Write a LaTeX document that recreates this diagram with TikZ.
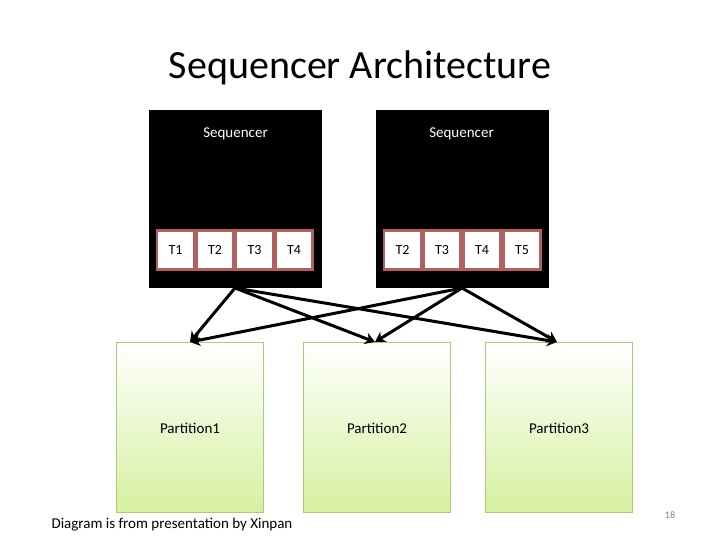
\documentclass[tikz,border=0pt]{standalone}
\usepackage{fontspec}
\setmainfont{Carlito}
\usetikzlibrary{arrows.meta}
\definecolor{pgreen}{HTML}{D6F0A0}
\definecolor{pborder}{HTML}{A8CC78}
\definecolor{cellb}{HTML}{B06060}
\begin{document}
\begin{tikzpicture}[x=1pt,y=-1pt,
  seq/.style={fill=black,draw=none},
  cell/.style={draw=cellb,line width=2.5pt,fill=white,minimum width=37pt,minimum height=39pt,inner sep=0pt,font=\fontsize{14}{16}\selectfont},
  part/.style={draw=pborder,line width=0.6pt,top color=white,bottom color=pgreen,minimum width=147pt,minimum height=170pt,inner sep=0pt},
  arr/.style={line width=3pt,-{Stealth[length=10pt,width=12pt]}}]
\useasboundingbox (0,0) rectangle (720,540);
\node[font=\fontsize{40}{44}\selectfont] (title) at (360,68) {Sequencer Architecture};
\node[seq,minimum width=173pt,minimum height=178pt,inner sep=0pt] (s1) at (235.5,199) {};
\node[seq,minimum width=173pt,minimum height=178pt,inner sep=0pt] (s2) at (462.5,199) {};
\node[text=white,font=\fontsize{15}{17}\selectfont] (l1) at (235.5,134) {Sequencer};
\node[text=white,font=\fontsize{15}{17}\selectfont] (l2) at (461.5,134) {Sequencer};
\node[cell] (a1) at (175.5,250) {T1};
\node[cell] (a2) at (215,250) {T2};
\node[cell] (a3) at (254.5,250) {T3};
\node[cell] (a4) at (294,250) {T4};
\node[cell] (b1) at (402.5,250) {T2};
\node[cell] (b2) at (442,250) {T3};
\node[cell] (b3) at (482,250) {T4};
\node[cell] (b4) at (522,250) {T5};
\node[part] (p1) at (189.5,427) {};
\node[part] (p2) at (376.5,427) {};
\node[part] (p3) at (558.5,427) {};
\node[font=\fontsize{15}{17}\selectfont] (q1) at (190,428) {Partition1};
\node[font=\fontsize{15}{17}\selectfont] (q2) at (377,428) {Partition2};
\node[font=\fontsize{15}{17}\selectfont] (q3) at (559,428) {Partition3};
\coordinate (o1) at (235,288);
\coordinate (o2) at (462,288);
\coordinate (t1) at (190,342);
\coordinate (t2) at (375,342);
\coordinate (t3) at (557,342);
\foreach \o in {o1,o2}{\foreach \t in {t1,t2,t3}{\draw[arr] (\o) -- (\t);}}
\node[anchor=west,font=\fontsize{15}{17}\selectfont] (foot) at (48,525) {Diagram is from presentation by Xinpan};
\node[text=gray,font=\fontsize{10}{12}\selectfont] (num) at (670,515) {18};
\end{tikzpicture}
\end{document}
